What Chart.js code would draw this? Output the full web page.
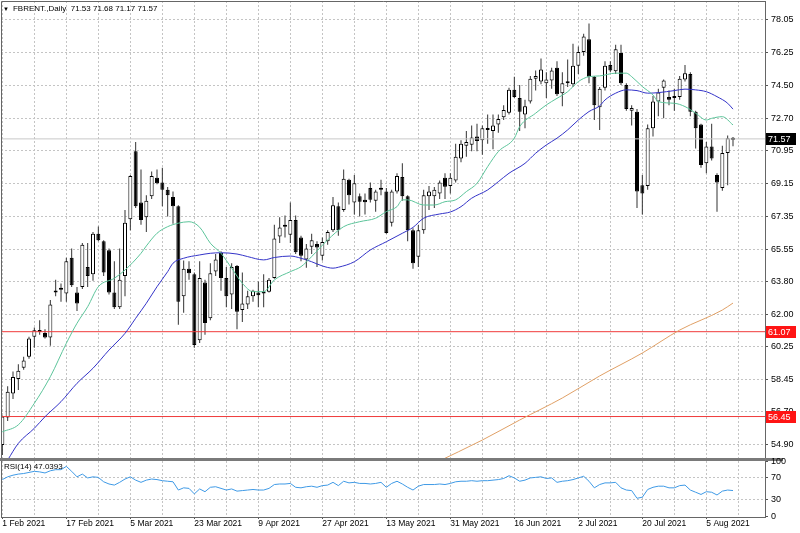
<!DOCTYPE html>
<html>
<head>
<meta charset="utf-8">
<script src="https://cdn.jsdelivr.net/npm/chart.js@4.4.1/dist/chart.umd.min.js"></script>
<style>
    html, body { margin: 0; padding: 0; background: #fff; }
    #wrap { position: relative; width: 800px; height: 533px; }
    .label { position: absolute; font: 8px 'Liberation Sans', Arial, sans-serif; color: #000; white-space: nowrap; }
    #header { left: 3px; top: 4px; }
    #header span { font-size: 6px; margin-right: 4px; }
    #rsiLabel { left: 4px; top: 462px; }
</style>
</head>
<body>
<div id="wrap">
    <canvas id="chart" width="800" height="533"></canvas>
    <div id="header" class="label"></div>
    <div id="rsiLabel" class="label"></div>
</div>
<script>
// x axis labels, one every 12 bars
const dateTicks = ['1 Feb 2021', '17 Feb 2021', '5 Mar 2021', '23 Mar 2021', '9 Apr 2021', '27 Apr 2021',
    '13 May 2021', '31 May 2021', '16 Jun 2021', '2 Jul 2021', '20 Jul 2021', '5 Aug 2021'];
const dateTickBars = [0, 12, 24, 36, 48, 60, 72, 84, 96, 108, 120, 132];
const gridBars = [0, 6, 12, 18, 24, 30, 36, 42, 48, 54, 60, 66, 72, 78, 84, 90, 96, 102, 108, 114, 120, 126, 132, 138];

const priceTicks = [78.05, 76.25, 74.50, 72.70, 70.95, 69.15, 67.35, 65.55, 63.80, 62.00, 60.25, 58.45, 56.70, 54.90];
const rsiTicks = [100, 70, 30, 0];
const rsiGuides = [70, 30];
const levelLines = [61.07, 56.45];

// daily candles, FBRENT
const opens = [54.9, 56.4, 57.7, 58.5, 59.1, 59.7, 60.8, 61.05, 61.0, 60.75,
    63.2, 63.35, 63.15, 65.1, 63.2, 63.5, 64.6, 64.2, 66.4, 66.0,
    65.5, 63.2, 62.4, 64.1, 67.2, 70.9, 68.1, 67.3, 68.45, 69.45,
    69.2, 68.8, 68.4, 67.9, 63.0, 64.5, 64.2, 60.6, 63.75, 61.8,
    64.35, 65.35, 64.0, 63.1, 64.65, 62.25, 62.55, 63.0, 63.2, 63.15,
    63.25, 64.0, 66.25, 66.82, 66.35, 67.15, 66.2, 65.0, 65.7, 65.85,
    65.2, 66.0, 66.6, 67.9, 67.7, 69.35, 68.1, 68.45, 68.25, 68.9,
    68.2, 68.8, 68.7, 67.0, 68.7, 69.5, 68.45, 66.6, 65.15, 66.6,
    68.45, 68.45, 68.6, 69.45, 69.0, 69.3, 70.5, 71.2, 71.25, 71.7,
    71.5, 72.15, 72.0, 72.35, 72.75, 73.0, 74.25, 73.8, 72.9, 73.6,
    74.85, 74.7, 74.6, 74.75, 75.45, 74.05, 74.6, 74.55, 75.55, 76.3,
    77.0, 74.95, 73.3, 74.35, 75.6, 75.25, 76.25, 74.5, 73.1, 73.05,
    69.05, 69.0, 72.15, 73.6, 74.35, 73.85, 73.85, 73.85, 74.8, 75.1,
    73.05, 72.35, 70.25, 71.15, 69.6, 68.9, 70.8, 71.53];
const highs = [56.5, 58.1, 58.9, 59.3, 59.7, 60.8, 61.3, 61.7, 61.2, 62.8,
    63.9, 63.7, 65.1, 65.6, 63.5, 65.9, 65.9, 66.5, 66.8, 66.05,
    65.6, 64.9, 65.6, 67.7, 69.6, 71.4, 69.9, 68.5, 69.8, 69.9,
    70.0, 68.95, 68.7, 67.95, 64.95, 64.9, 64.3, 64.9, 63.9, 64.8,
    65.3, 65.45, 64.6, 64.8, 64.7, 64.3, 63.3, 63.35, 63.8, 64.2,
    64.0, 66.9, 67.3, 67.4, 68.1, 67.4, 66.3, 65.85, 66.4, 66.0,
    66.2, 66.6, 68.4, 68.1, 69.9, 69.4, 69.6, 68.6, 68.6, 69.2,
    68.8, 69.35, 68.9, 68.8, 69.7, 70.25, 68.5, 66.7, 66.9, 68.8,
    69.0, 68.95, 69.3, 69.7, 69.7, 71.3, 71.5, 72.0, 72.3, 72.4,
    72.3, 72.9, 72.9, 72.9, 73.4, 74.35, 74.95, 74.5, 73.7, 75.0,
    75.3, 75.95, 75.2, 75.45, 75.8, 75.2, 75.9, 76.75, 76.6, 77.3,
    77.85, 75.0, 74.4, 75.8, 75.8, 76.7, 76.7, 74.6, 73.4, 73.2,
    69.6, 72.35, 73.9, 74.3, 74.8, 74.2, 74.3, 75.0, 75.6, 75.2,
    73.1, 72.4, 71.4, 72.4, 69.7, 71.2, 71.75, 71.68];
const lows = [54.35, 56.2, 57.4, 57.9, 59.0, 59.6, 60.2, 60.9, 60.7, 60.3,
    63.0, 62.7, 62.7, 63.5, 62.2, 63.4, 63.5, 63.85, 66.0, 64.1,
    63.1, 62.3, 62.3, 63.0, 66.6, 67.8, 66.9, 66.5, 68.3, 69.1,
    67.9, 67.35, 66.95, 61.45, 62.1, 63.9, 60.2, 60.45, 60.9, 61.7,
    64.1, 63.3, 62.4, 62.3, 61.2, 61.6, 62.3, 62.7, 62.4, 62.4,
    63.2, 63.95, 65.9, 66.2, 65.9, 65.3, 64.9, 64.55, 65.3, 64.6,
    64.95, 65.8, 66.5, 66.3, 67.6, 68.0, 67.45, 67.35, 67.45, 68.1,
    67.6, 68.5, 66.4, 66.8, 68.6, 68.2, 66.0, 64.5, 64.6, 66.4,
    67.7, 67.8, 68.3, 68.3, 68.6, 69.2, 70.3, 70.6, 70.9, 70.9,
    70.7, 71.3, 71.0, 71.9, 72.6, 72.9, 73.8, 72.0, 72.15, 73.5,
    74.2, 74.55, 73.8, 74.3, 73.9, 73.35, 74.4, 74.4, 75.1, 76.1,
    74.6, 72.6, 72.05, 74.2, 75.2, 75.1, 74.5, 73.1, 72.3, 67.8,
    67.45, 68.8, 71.7, 72.8, 72.7, 73.4, 73.1, 73.7, 74.7, 72.8,
    71.05, 70.0, 69.7, 70.4, 67.6, 68.75, 69.05, 71.17];
const closes = [56.45, 57.8, 58.6, 58.95, 59.5, 60.7, 61.15, 61.1, 60.75, 62.55,
    63.25, 63.4, 64.9, 63.6, 62.6, 65.8, 64.1, 66.4, 66.05, 64.3,
    63.2, 62.4, 63.9, 67.0, 69.55, 67.9, 67.15, 68.2, 69.55, 69.15,
    68.8, 68.5, 67.9, 62.7, 64.5, 64.25, 60.35, 64.0, 61.55, 64.25,
    65.0, 64.0, 63.0, 64.6, 62.15, 62.6, 63.0, 63.3, 63.05, 63.2,
    63.9, 66.15, 66.75, 66.78, 67.15, 65.4, 65.2, 65.6, 66.05, 65.65,
    65.95, 66.5, 67.95, 66.6, 69.4, 68.5, 69.15, 68.15, 68.12, 68.25,
    68.7, 68.9, 66.45, 68.7, 69.55, 68.45, 66.6, 64.8, 66.6, 68.5,
    68.7, 68.8, 69.2, 68.97, 69.45, 70.6, 71.3, 71.4, 71.65, 71.45,
    72.15, 72.05, 72.3, 72.65, 73.15, 74.25, 73.85, 73.05, 73.35, 74.85,
    75.0, 75.35, 74.8, 75.3, 74.0, 74.6, 74.65, 75.55, 76.3, 77.15,
    74.95, 73.4, 74.3, 75.55, 75.3, 76.45, 74.6, 73.2, 73.25, 68.7,
    68.6, 72.15, 73.6, 74.1, 74.75, 73.7, 73.8, 74.85, 75.15, 73.05,
    72.15, 70.15, 71.15, 70.5, 69.2, 70.8, 71.6, 71.57];

// moving averages (bar index -> price)
const fastMaBars = [0, 3, 6, 9, 12, 14, 16, 18, 21, 23, 26, 27, 29, 31, 33, 35, 37, 39, 41, 43, 45, 47, 49, 51, 54, 56, 58,
    61, 64, 67, 70, 72, 74, 75, 76, 79, 81, 83, 85, 87, 89, 91, 93, 96, 97, 100, 102, 104, 106, 108, 110, 112,
    115, 117, 118, 120, 122, 123, 126, 128, 130, 132, 133, 135, 137];
const fastMaValues = [55.62, 56.0, 57.17, 58.62, 60.44, 61.53, 62.43, 63.52, 63.98, 64.43, 65.34, 65.74, 66.43, 66.79, 66.98,
    67.06, 66.76, 65.89, 65.34, 64.53, 63.71, 63.25, 63.25, 63.89, 64.34, 64.61, 65.16, 66.07, 66.79, 67.06, 67.25,
    67.61, 67.88, 68.25, 68.25, 67.97, 67.97, 68.15, 68.25, 68.7, 69.15, 70.06, 70.88, 71.61, 72.24, 72.97, 73.42,
    73.78, 74.14, 74.69, 74.96, 75.0, 75.15, 75.15, 74.96, 74.42, 73.96, 73.6, 73.51, 73.33, 72.97, 72.6, 72.69,
    72.78, 72.33];
const slowMaBars = [1, 3, 6, 8, 11, 14, 17, 20, 23, 25, 27, 29, 31, 32, 34, 37, 39, 41, 44, 46, 49, 51, 54, 56, 58, 60, 62,
    63, 66, 69, 72, 75, 77, 79, 82, 84, 86, 88, 91, 93, 95, 98, 100, 102, 104, 106, 108, 110, 112, 113, 115, 117,
    119, 121, 123, 126, 128, 130, 132, 134, 136, 137];
const slowMaValues = [54.08, 54.99, 55.81, 56.44, 57.26, 58.26, 59.08, 60.07, 60.98, 61.8, 62.62, 63.52, 64.34, 64.8, 65.07,
    65.25, 65.34, 65.37, 65.3, 65.16, 64.98, 65.11, 65.19, 65.07, 64.88, 64.65, 64.53, 64.58, 64.88, 65.52, 65.97,
    66.43, 66.75, 67.25, 67.48, 67.59, 67.88, 68.34, 68.79, 69.24, 69.7, 70.24, 70.79, 71.24, 71.61, 72.06, 72.6,
    73.06, 73.37, 73.69, 74.06, 74.24, 74.2, 74.06, 74.09, 74.2, 74.28, 74.24, 74.14, 73.87, 73.51, 73.19];
const longMaBars = [81, 90, 97, 105, 112, 120, 127, 135, 137];
const longMaValues = [53.9, 55.17, 56.26, 57.46, 58.66, 59.91, 61.16, 62.25, 62.63];

const rsiValues = [67, 72, 75, 77, 78, 80, 82, 81, 79, 83,
    85, 85, 91, 82, 72, 77, 70, 72, 71, 63,
    59, 57, 62, 68, 72, 66, 62, 66, 68, 67,
    65, 64, 63, 48, 52, 51, 41, 50, 45, 53,
    54, 51, 48, 50, 46, 47, 48, 49, 48, 48,
    51, 58, 59, 59, 60, 53, 52, 54, 55, 53,
    56, 57, 62, 56, 64, 61, 62, 60, 60, 59,
    60, 62, 53, 60, 64, 59, 53, 48, 55, 58,
    58, 58, 59, 58, 60, 63, 64, 64, 65, 64,
    65, 65, 66, 67, 69, 74, 70, 64, 66, 70,
    71, 72, 69, 70, 62, 64, 65, 67, 70, 73,
    64, 52, 58, 61, 61, 62, 52, 48, 47, 33,
    35, 49, 53, 55, 55, 52, 52, 56, 57, 48,
    44, 40, 45, 44, 39, 46, 48, 47.0393];

const lastIdx = closes.length - 1;
const lastPrice = closes[lastIdx];
const xMin = -0.25;
const xMax = 143;

const fontFamily = "'Liberation Sans', Arial, sans-serif";
const gridColor = '#c4c4c4';

document.getElementById('header').innerHTML = '<span>&#9660;</span>FBRENT.,Daily&nbsp; ' +
    [opens[lastIdx], highs[lastIdx], lows[lastIdx], closes[lastIdx]].map(v => v.toFixed(2)).join(' ');
document.getElementById('rsiLabel').textContent = 'RSI(14) ' + rsiValues[lastIdx].toFixed(4);

const wickData = highs.map((h, i) => ({ x: i, y: [lows[i], h] }));
const bodyData = opens.map((o, i) => ({ x: i, y: [o, closes[i]] }));
const bodyColors = opens.map((o, i) => closes[i] >= o ? '#ffffff' : '#000000');

function toPoints(bars, values) {
    return bars.map((b, k) => ({ x: b, y: values[k] }));
}

function hLine(value) {
    return [{ x: xMin, y: value }, { x: xMax, y: value }];
}

// no label overhang padding, panels must fill the canvas
function noPadding(scale) {
    scale.paddingTop = 0;
    scale.paddingBottom = 0;
    scale.paddingLeft = 0;
    scale.paddingRight = 0;
}

const lineBase = {
    type: 'line',
    pointRadius: 0,
    borderWidth: 1,
    fill: false,
    cubicInterpolationMode: 'monotone'
};

// frame, panel separator and the coloured price boxes on the axis
const panelFrame = {
    id: 'panelFrame',
    beforeDraw(chart) {
        const { ctx, chartArea: a, scales } = chart;
        ctx.save();
        ctx.fillStyle = '#7a7a7a';
        ctx.fillRect(a.right, scales.y.bottom - 1.5, 18, 3);
        ctx.restore();
    },
    afterDraw(chart) {
        const { ctx, chartArea: a, scales } = chart;
        const y = scales.y;
        ctx.save();
        ctx.strokeStyle = '#666';
        ctx.lineWidth = 1;
        ctx.beginPath();
        ctx.moveTo(a.left + 0.5, a.bottom);
        ctx.lineTo(a.left + 0.5, a.top + 0.5);
        ctx.lineTo(a.right, a.top + 0.5);
        ctx.stroke();
        ctx.fillStyle = '#7a7a7a';
        ctx.fillRect(0, y.bottom - 1.5, a.right + 1, 3);

        ctx.font = '9px ' + fontFamily;
        ctx.textBaseline = 'middle';
        const box = (v, bg) => {
            const py = Math.round(y.getPixelForValue(v));
            ctx.fillStyle = bg;
            ctx.fillRect(a.right + 1, py - 6, 30, 12);
            ctx.fillStyle = '#fff';
            ctx.fillText(v.toFixed(2), a.right + 3, py + 0.5);
        };
        levelLines.forEach(v => box(v, '#ff1414'));
        box(lastPrice, '#000');
        ctx.restore();
    }
};

new Chart(document.getElementById('chart'), {
    type: 'bar',
    data: {
        datasets: [
            {
                data: wickData,
                backgroundColor: '#333',
                barThickness: 1,
                grouped: false,
                borderWidth: 0,
                inflateAmount: 0,
                order: 6
            },
            {
                data: bodyData,
                backgroundColor: bodyColors,
                borderColor: '#000',
                borderWidth: 1,
                borderSkipped: false,
                barThickness: 4,
                minBarLength: 2,
                grouped: false,
                inflateAmount: 0,
                order: 5
            },
            { ...lineBase, data: hLine(lastPrice), borderColor: '#c8c8c8', order: 4, cubicInterpolationMode: 'default' },
            ...levelLines.map(v => ({ ...lineBase, data: hLine(v), borderColor: '#f03a3a', order: 4, cubicInterpolationMode: 'default' })),
            { ...lineBase, data: toPoints(longMaBars, longMaValues), borderColor: '#e0a066', order: 3 },
            { ...lineBase, data: toPoints(slowMaBars, slowMaValues), borderColor: '#3434c8', order: 2 },
            { ...lineBase, data: toPoints(fastMaBars, fastMaValues), borderColor: '#5cc49a', order: 1 },
            { ...lineBase, data: rsiValues.map((v, i) => ({ x: i, y: v })), yAxisID: 'rsi', borderColor: '#3f9ae6', order: 1, cubicInterpolationMode: 'default' }
        ]
    },
    options: {
        responsive: false,
        animation: false,
        events: [],
        layout: { padding: { left: 1, top: 1, right: 0, bottom: 0 } },
        plugins: {
            legend: { display: false },
            tooltip: { enabled: false }
        },
        scales: {
            x: {
                type: 'linear',
                min: xMin,
                max: xMax,
                offset: false,
                afterBuildTicks: scale => { scale.ticks = gridBars.map(v => ({ value: v })); },
                afterFit: scale => { scale.height = 16; noPadding(scale); },
                ticks: {
                    autoSkip: false,
                    maxRotation: 0,
                    minRotation: 0,
                    align: 'start',
                    padding: 0,
                    color: '#000',
                    font: { family: fontFamily, size: 8.5 },
                    callback: v => {
                        const k = dateTickBars.indexOf(v);
                        return k >= 0 ? dateTicks[k] : '';
                    }
                },
                grid: {
                    offset: false,
                    color: gridColor,
                    tickLength: 2,
                    tickColor: ctx => dateTickBars.includes(ctx.tick && ctx.tick.value) ? '#555' : 'rgba(0,0,0,0)'
                },
                border: { display: true, color: '#666', dash: [2, 2] }
            },
            y: {
                position: 'right',
                stack: 'panes',
                stackWeight: 458.5,
                min: 54.11,
                max: 79.08,
                afterBuildTicks: scale => { scale.ticks = priceTicks.map(v => ({ value: v })); },
                afterFit: scale => { scale.width = 35; noPadding(scale); },
                ticks: {
                    autoSkip: false,
                    padding: 3,
                    color: '#000',
                    font: { family: fontFamily, size: 9 },
                    callback: v => v.toFixed(2)
                },
                grid: { color: gridColor, tickLength: 3, tickColor: '#555' },
                border: { display: true, color: '#666', dash: [2, 2] }
            },
            rsi: {
                position: 'right',
                stack: 'panes',
                stackWeight: 57.5,
                min: -1,
                max: 103.5,
                afterBuildTicks: scale => { scale.ticks = rsiTicks.map(v => ({ value: v })); },
                afterFit: scale => { scale.width = 35; noPadding(scale); },
                ticks: {
                    autoSkip: false,
                    padding: 3,
                    color: '#000',
                    font: { family: fontFamily, size: 9 },
                    callback: v => String(v)
                },
                grid: {
                    color: ctx => rsiGuides.includes(ctx.tick && ctx.tick.value) ? gridColor : 'rgba(0,0,0,0)',
                    tickLength: 3,
                    tickColor: '#555'
                },
                border: { display: true, color: '#666', dash: [2, 2] }
            }
        }
    },
    plugins: [panelFrame]
});
</script>
</body>
</html>
